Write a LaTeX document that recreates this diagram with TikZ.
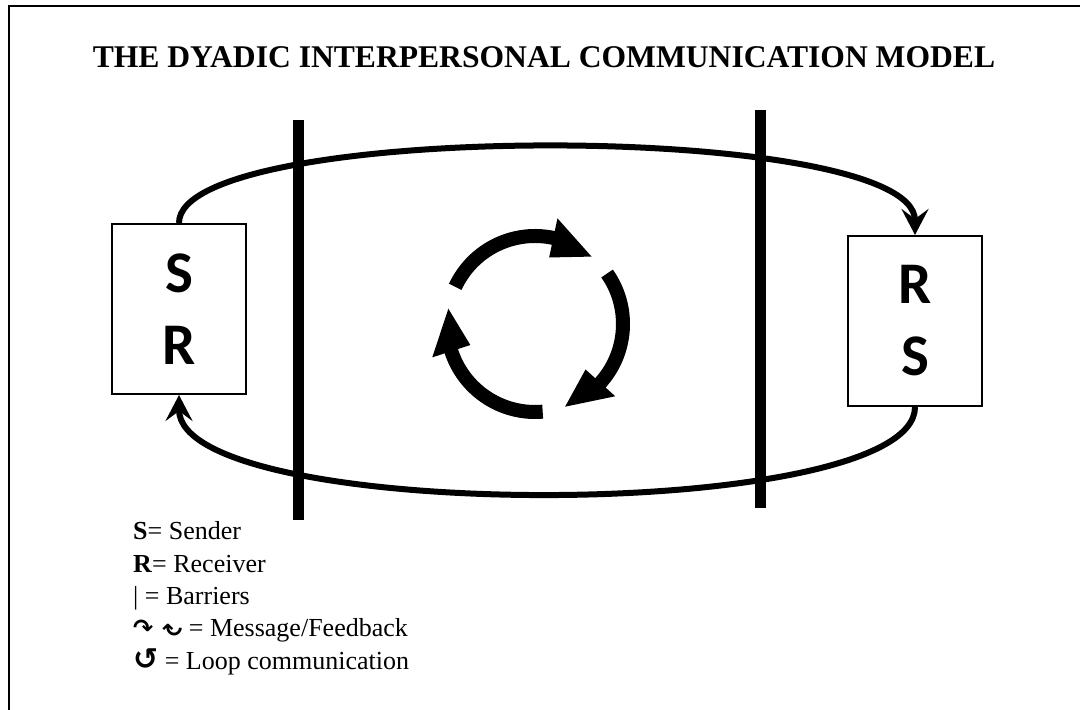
\documentclass[tikz,border=0pt]{standalone}
\usepackage{fontspec}
\usepackage{graphicx}
\setmainfont{Liberation Serif}
\newfontfamily\boxfont{Carlito}
\newfontfamily\symfont{DejaVu Sans}
\usetikzlibrary{arrows.meta}
\begin{document}
\begin{tikzpicture}[x=1pt,y=1pt,
  party/.style={draw, line width=2pt, minimum width=134pt, minimum height=170pt,
    inner sep=0pt, align=center, font=\boxfont\bfseries\fontsize{59}{72}\selectfont},
  barrier/.style={line width=11pt},
  flow/.style={line width=6pt, -{Stealth[length=26pt,width=27pt,inset=10pt]}},
  cyc/.style={line width=14pt},
  legend/.style={anchor=base west, inner sep=0pt, font=\fontsize{26}{30}\selectfont},
]
\useasboundingbox (0,0) rectangle (1080,710);
% outer frame (top and left edges)
\draw[line width=2pt] (8.5,-5) -- (8.5,703.5) -- (1085,703.5);

% title
\node[font=\bfseries\fontsize{31.6}{38}\selectfont, anchor=base, inner sep=0pt] (title)
  at (544,642) {THE DYADIC INTERPERSONAL COMMUNICATION MODEL};

% the two parties
\node[party] (lbox) at (179,401) {S\\R};
\node[party] (rbox) at (915,389) {R\\S};

% barriers
\coordinate (b1top) at (298,590); \coordinate (b1bot) at (298,190);
\coordinate (b2top) at (760,600); \coordinate (b2bot) at (760,202);
\draw[barrier] (b1bot) -- (b1top);
\draw[barrier] (b2bot) -- (b2top);

% message and feedback
\draw[flow] (lbox.north) .. controls (179,590) and (915,590) .. (rbox.north);
\draw[flow] (rbox.south) .. controls (915,186) and (179,186) .. (lbox.south);

% loop of three arrows
\begin{scope}[shift={(535,386)}]
  \foreach \s in {155,35,-85} {
    \draw[cyc] (\s:88) arc[start angle=\s, end angle=\s-78, radius=88];
    \fill ({\s-77}:68) -- ({\s-77}:108) -- ({\s-105}:88) -- cycle;
  }
\end{scope}

% legend
\node[legend] (lS) at (133,170) {\textbf{S}= Sender};
\node[legend] (lR) at (133,137) {\textbf{R}= Receiver};
\node[legend] (lB) at (133,105) {| = Barriers};
\node[legend] (lM) at (133,73) {{\symfont\bfseries\fontsize{24}{28}\selectfont ↷\hspace{9pt}\raisebox{1pt}{\rotatebox[origin=c]{180}{↷}}} = Message/Feedback};
\node[legend] (lL) at (133,40) {{\symfont\bfseries\fontsize{30}{30}\selectfont ↺} = Loop communication};
\end{tikzpicture}
\end{document}
